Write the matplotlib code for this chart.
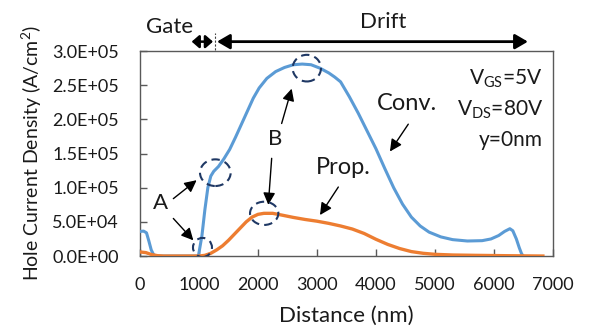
import matplotlib
matplotlib.use('Agg')
import matplotlib.pyplot as plt
import matplotlib.transforms as mtransforms
from matplotlib.patches import Ellipse

plt.rcParams['font.family'] = ['Lato', 'DejaVu Sans']
plt.rcParams['mathtext.fontset'] = 'custom'
plt.rcParams['mathtext.rm'] = 'Lato'
plt.rcParams['mathtext.it'] = 'Lato:italic'

TXT = '#1a1a1a'
BLUE = '#5B9BD5'
ORANGE = '#ED7D31'
NAVY = '#1F3864'

# ── Data ──
conv_x = [0, 60, 110, 150, 190, 230, 280, 500, 800, 990, 1050, 1100, 1150,
          1200, 1250, 1330, 1420, 1520, 1620, 1720, 1820, 1920, 2020, 2150,
          2300, 2450, 2600, 2750, 2900, 3050, 3200, 3300, 3400, 3550, 3700,
          3850, 4000, 4150, 4300, 4450, 4600, 4750, 4900, 5100, 5300, 5550,
          5800, 5950, 6080, 6180, 6270, 6320, 6380, 6430, 6470, 6500]
conv_y = [0.36, 0.365, 0.34, 0.22, 0.09, 0.02, 0.0, 0.0, 0.0, 0.0, 0.30, 0.68,
          1.00, 1.17, 1.24, 1.31, 1.42, 1.56, 1.74, 1.93, 2.12, 2.31, 2.46,
          2.60, 2.70, 2.76, 2.80, 2.81, 2.80, 2.75, 2.68, 2.62, 2.55, 2.33,
          2.09, 1.83, 1.57, 1.28, 1.00, 0.76, 0.57, 0.44, 0.35, 0.28, 0.24,
          0.22, 0.225, 0.25, 0.30, 0.36, 0.40, 0.37, 0.25, 0.12, 0.03, 0.0]

prop_x = [0, 100, 200, 300, 400, 1000, 1100, 1200, 1300, 1400, 1500, 1600,
          1700, 1800, 1900, 2000, 2100, 2250, 2400, 2600, 2800, 3000, 3200,
          3400, 3600, 3800, 4000, 4200, 4400, 4600, 4800, 5000, 5300, 5700,
          6200, 6830]
prop_y = [0.06, 0.05, 0.02, 0.005, 0.0, 0.0, 0.01, 0.04, 0.09, 0.15, 0.23,
          0.32, 0.41, 0.50, 0.57, 0.61, 0.625, 0.625, 0.60, 0.565, 0.535,
          0.51, 0.478, 0.44, 0.395, 0.33, 0.245, 0.17, 0.11, 0.065, 0.04,
          0.025, 0.015, 0.01, 0.005, 0.0]

x_ticks = [0, 1000, 2000, 3000, 4000, 5000, 6000, 7000]
y_ticks = [0, 0.5e5, 1.0e5, 1.5e5, 2.0e5, 2.5e5, 3.0e5]
y_ticklabels = ['0.0E+00', '5.0E+04', '1.0E+05', '1.5E+05',
                '2.0E+05', '2.5E+05', '3.0E+05']

fig = plt.figure(figsize=(5.92, 3.36), dpi=100)
ax = fig.add_axes([0.2365, 0.238, 0.6975, 0.61])

ax.plot(conv_x, [v * 1e5 for v in conv_y], color=BLUE, lw=2.2, zorder=3,
        solid_joinstyle='round')
ax.plot(prop_x, [v * 1e5 for v in prop_y], color=ORANGE, lw=2.4, zorder=4,
        solid_joinstyle='round')

ax.set_xlim(0, 7000)
ax.set_ylim(0, 3.0e5)
ax.set_xticks(x_ticks)
ax.set_yticks(y_ticks)
ax.set_yticklabels(y_ticklabels)
ax.tick_params(axis='both', direction='in', length=5, width=1,
               color='#595959', labelsize=13, labelcolor=TXT)
ax.tick_params(axis='x', pad=15)
ax.tick_params(axis='y', pad=15)
for s in ax.spines.values():
    s.set_color('#595959')
    s.set_linewidth(1.0)

ax.set_xlabel('Distance (nm)', fontsize=16, color=TXT, labelpad=9)
ax.set_ylabel('Hole Current Density (A/cm$^2$)', fontsize=14, color=TXT,
              labelpad=6)

# ── Dashed circles ──
for cx, cy, w, h in [(1059, 0.125e5, 322, 0.28e5),
                     (1277, 1.22e5, 520, 0.39e5),
                     (2105, 0.625e5, 480, 0.34e5),
                     (2828, 2.75e5, 480, 0.39e5)]:
    ax.add_patch(Ellipse((cx, cy), w, h, fill=False, ec=NAVY, lw=1.5,
                         ls=(0, (4, 2.5)), zorder=5))

# ── Labels with arrows ──
arr = dict(arrowstyle='-|>', color='black', lw=1.0, mutation_scale=18,
           shrinkA=0, shrinkB=0)
ax.text(339, 0.78e5, 'A', fontsize=16, ha='center', va='center', color=TXT)
ax.annotate('', xy=(960, 1.11e5), xytext=(565, 0.84e5), arrowprops=arr)
ax.annotate('', xy=(904, 0.23e5), xytext=(565, 0.55e5), arrowprops=arr)

ax.text(2288, 1.72e5, 'B', fontsize=16, ha='center', va='center', color=TXT)
ax.annotate('', xy=(2571, 2.45e5), xytext=(2401, 1.94e5), arrowprops=arr)
ax.annotate('', xy=(2175, 0.75e5), xytext=(2232, 1.43e5), arrowprops=arr)

ax.text(3441, 1.29e5, 'Prop.', fontsize=17, ha='center', va='center', color=TXT)
ax.annotate('', xy=(3051, 0.60e5), xytext=(3362, 1.01e5), arrowprops=arr)

ax.text(4520, 2.23e5, 'Conv.', fontsize=17, ha='center', va='center', color=TXT)
ax.annotate('', xy=(4237, 1.53e5), xytext=(4548, 1.93e5), arrowprops=arr)

for yy, s in [(2.60e5, 'V$_{\\mathrm{GS}}$=5V'),
              (2.14e5, 'V$_{\\mathrm{DS}}$=80V'),
              (1.70e5, 'y=0nm')]:
    ax.text(6830, yy, s, fontsize=15, ha='right', va='center', color=TXT)

# ── Gate / Drift region markers above the axes ──
tr = mtransforms.blended_transform_factory(ax.transData, ax.transAxes)
gate_arr = dict(arrowstyle='<|-|>,head_length=0.4,head_width=0.35',
                color='black', lw=1.8, mutation_scale=11, shrinkA=0, shrinkB=0)
drift_arr = dict(arrowstyle='<|-|>,head_length=0.55,head_width=0.32',
                 color='black', lw=2.0, mutation_scale=14, shrinkA=0, shrinkB=0)
ax.annotate('', xy=(1237, 1.046), xytext=(876, 1.046), xycoords=tr,
            textcoords=tr, arrowprops=gate_arr, annotation_clip=False)
ax.annotate('', xy=(6576, 1.046), xytext=(1305, 1.046), xycoords=tr,
            textcoords=tr, arrowprops=drift_arr, annotation_clip=False)
ax.plot([1275, 1275], [1.005, 1.09], transform=tr, color='#404040', lw=0.8,
        ls=(0, (2, 1.5)), clip_on=False)
ax.text(500, 1.117, 'Gate', transform=tr, fontsize=16, ha='center',
        va='center', color=TXT)
ax.text(4120, 1.141, 'Drift', transform=tr, fontsize=16, ha='center',
        va='center', color=TXT)

fig.savefig('out.png', dpi=100)
